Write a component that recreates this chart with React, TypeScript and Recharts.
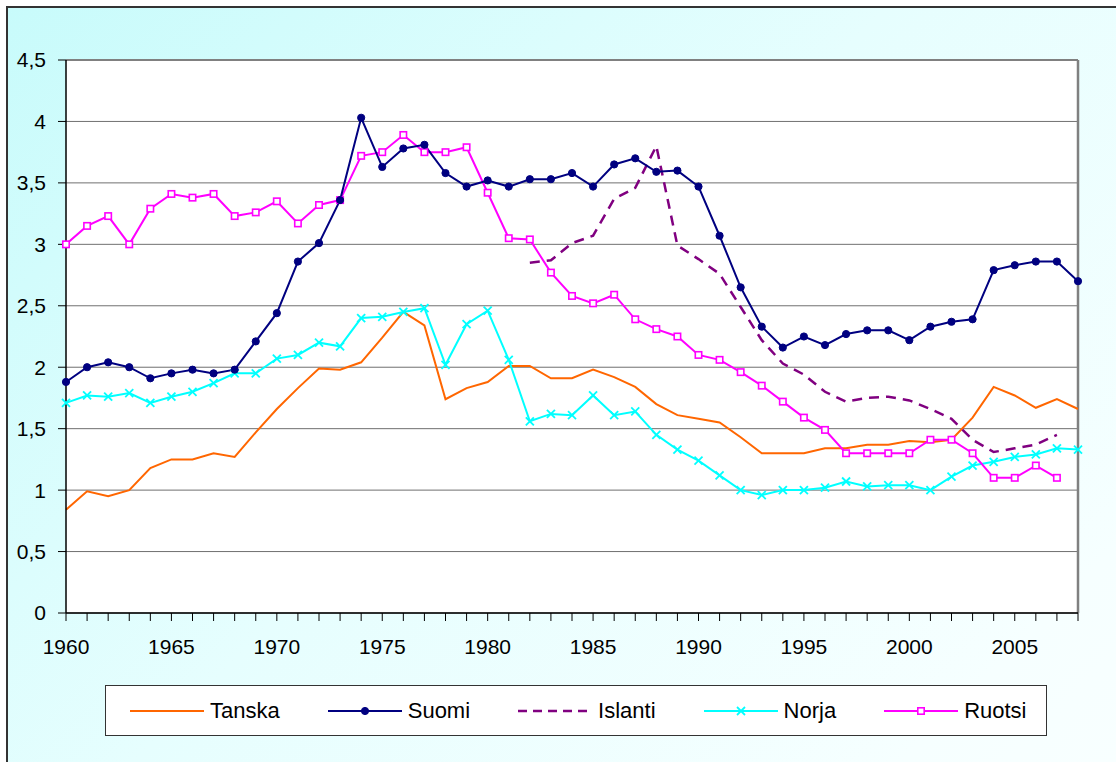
import React from "react";
import {
  LineChart,
  Line,
  XAxis,
  YAxis,
  CartesianGrid,
  Legend,
  ReferenceLine,
} from "recharts";

const years = [
  1960, 1961, 1962, 1963, 1964, 1965, 1966, 1967, 1968, 1969, 1970, 1971, 1972,
  1973, 1974, 1975, 1976, 1977, 1978, 1979, 1980, 1981, 1982, 1983, 1984, 1985,
  1986, 1987, 1988, 1989, 1990, 1991, 1992, 1993, 1994, 1995, 1996, 1997, 1998,
  1999, 2000, 2001, 2002, 2003, 2004, 2005, 2006, 2007, 2008,
];

const tanska = [
  0.84, 0.99, 0.95, 1.0, 1.18, 1.25, 1.25, 1.3, 1.27, 1.47, 1.66, 1.83, 1.99,
  1.98, 2.04, 2.24, 2.45, 2.34, 1.74, 1.83, 1.88, 2.01, 2.01, 1.91, 1.91, 1.98,
  1.92, 1.84, 1.7, 1.61, 1.58, 1.55, 1.43, 1.3, 1.3, 1.3, 1.34, 1.34, 1.37,
  1.37, 1.4, 1.39, 1.41, 1.59, 1.84, 1.77, 1.67, 1.74, 1.66,
];

const suomi = [
  1.88, 2.0, 2.04, 2.0, 1.91, 1.95, 1.98, 1.95, 1.98, 2.21, 2.44, 2.86, 3.01,
  3.36, 4.03, 3.63, 3.78, 3.81, 3.58, 3.47, 3.52, 3.47, 3.53, 3.53, 3.58, 3.47,
  3.65, 3.7, 3.59, 3.6, 3.47, 3.07, 2.65, 2.33, 2.16, 2.25, 2.18, 2.27, 2.3,
  2.3, 2.22, 2.33, 2.37, 2.39, 2.79, 2.83, 2.86, 2.86, 2.7,
];

const islanti = [
  null, null, null, null, null, null, null, null, null, null, null, null, null,
  null, null, null, null, null, null, null, null, null, 2.85, 2.87, 3.01, 3.07,
  3.37, 3.46, 3.8, 2.99, 2.88, 2.76, 2.49, 2.22, 2.03, 1.94, 1.8, 1.72, 1.75,
  1.76, 1.73, 1.66, 1.58, 1.41, 1.31, 1.34, 1.37, 1.45, null,
];

const norja = [
  1.71, 1.77, 1.76, 1.79, 1.71, 1.76, 1.8, 1.87, 1.95, 1.95, 2.07, 2.1, 2.2,
  2.17, 2.4, 2.41, 2.45, 2.48, 2.02, 2.35, 2.46, 2.06, 1.56, 1.62, 1.61, 1.77,
  1.61, 1.64, 1.45, 1.33, 1.24, 1.12, 1.0, 0.96, 1.0, 1.0, 1.02, 1.07, 1.03,
  1.04, 1.04, 1.0, 1.11, 1.2, 1.23, 1.27, 1.29, 1.34, 1.33,
];

const ruotsi = [
  3.0, 3.15, 3.23, 3.0, 3.29, 3.41, 3.38, 3.41, 3.23, 3.26, 3.35, 3.17, 3.32,
  3.36, 3.72, 3.75, 3.89, 3.75, 3.75, 3.79, 3.42, 3.05, 3.04, 2.77, 2.58, 2.52,
  2.59, 2.39, 2.31, 2.25, 2.1, 2.06, 1.96, 1.85, 1.72, 1.59, 1.49, 1.3, 1.3,
  1.3, 1.3, 1.41, 1.41, 1.3, 1.1, 1.1, 1.2, 1.1, null,
];

const yTicks = [0, 0.5, 1, 1.5, 2, 2.5, 3, 3.5, 4, 4.5];

const data = years.map((year, i) => ({
  year,
  Tanska: tanska[i],
  Suomi: suomi[i],
  Islanti: islanti[i],
  Norja: norja[i],
  Ruotsi: ruotsi[i],
}));

const FONT = "'Liberation Sans', Arial, sans-serif";

const COLORS = {
  Tanska: "#ff6600",
  Suomi: "#000080",
  Islanti: "#800080",
  Norja: "#00ffff",
  Ruotsi: "#ff00ff",
};

type MarkerKind = "none" | "circle" | "cross" | "square";

function Marker({ kind, cx, cy, color }: { kind: MarkerKind; cx: number; cy: number; color: string }) {
  if (kind === "circle") return <circle cx={cx} cy={cy} r={3.6} fill={color} stroke={color} strokeWidth={1} />;
  if (kind === "cross")
    return (
      <g stroke={color} strokeWidth={1.8}>
        <line x1={cx - 4} y1={cy - 4} x2={cx + 4} y2={cy + 4} />
        <line x1={cx - 4} y1={cy + 4} x2={cx + 4} y2={cy - 4} />
      </g>
    );
  if (kind === "square")
    return <rect x={cx - 3.2} y={cy - 3.2} width={6.4} height={6.4} fill="#fff" stroke={color} strokeWidth={1.6} />;
  return null;
}

const makeDot = (kind: MarkerKind, color: string) => (props: any) => {
  const { cx, cy, value, index } = props;
  if (cx == null || cy == null || value == null) return <g key={`e-${index}`} />;
  return (
    <g key={`d-${index}`}>
      <Marker kind={kind} cx={cx} cy={cy} color={color} />
    </g>
  );
};

const legendItems: { name: keyof typeof COLORS; kind: MarkerKind; dash?: string }[] = [
  { name: "Tanska", kind: "none" },
  { name: "Suomi", kind: "circle" },
  { name: "Islanti", kind: "none", dash: "9 6" },
  { name: "Norja", kind: "cross" },
  { name: "Ruotsi", kind: "square" },
];

function LegendBox() {
  return (
    <div
      style={{
        boxSizing: "border-box",
        width: 942,
        height: 51,
        background: "#fff",
        border: "1.5px solid #333",
        display: "flex",
        alignItems: "center",
        paddingLeft: 24,
        fontFamily: FONT,
        fontSize: 22,
        color: "#000",
      }}
    >
      {legendItems.map((it) => (
        <div key={it.name} style={{ display: "flex", alignItems: "center", marginRight: 48 }}>
          <svg width={74} height={14} style={{ display: "block" }}>
            <line
              x1={0}
              y1={7}
              x2={74}
              y2={7}
              stroke={COLORS[it.name]}
              strokeWidth={it.dash ? 2.5 : 2}
              strokeDasharray={it.dash}
            />
            <Marker kind={it.kind} cx={37} cy={7} color={COLORS[it.name]} />
          </svg>
          <span style={{ marginLeft: 6, lineHeight: "24px" }}>{it.name}</span>
        </div>
      ))}
    </div>
  );
}

export default function App() {
  return (
    <div
      style={{
        position: "fixed",
        left: 0,
        top: 0,
        width: 1116,
        height: 762,
        overflow: "hidden",
        background: "#fff",
      }}
    >
      <div
        style={{
          position: "absolute",
          left: 6,
          top: 6,
          width: 1300,
          height: 900,
          borderLeft: "2px solid #333",
          borderTop: "2px solid #333",
          background: "linear-gradient(135deg, #c8fbfb 0%, #e6fefe 40%, #f6ffff 75%, #fbffff 100%)",
        }}
      />
      <div style={{ position: "absolute", left: 0, top: 0 }}>
        <LineChart
          width={1116}
          height={762}
          data={data}
          margin={{ top: 60, right: 38, bottom: 26, left: 0 }}
        >
          <CartesianGrid vertical={false} stroke="#707070" strokeWidth={1} fill="#fff" fillOpacity={1} />
          <XAxis
            dataKey="year"
            type="number"
            domain={[1960, 2008]}
            ticks={years}
            interval={0}
            height={72}
            tickSize={8}
            tickMargin={18}
            tickFormatter={(v: number) => (v % 5 === 0 ? String(v) : "")}
            axisLine={{ stroke: "#000", strokeWidth: 1.5 }}
            tickLine={{ stroke: "#000" }}
            tick={{ fill: "#000", fontSize: 21, fontFamily: FONT }}
          />
          <YAxis
            domain={[0, 4.5]}
            ticks={yTicks}
            interval={0}
            width={66}
            tickSize={8}
            tickMargin={12}
            tickFormatter={(v: number) => String(v).replace(".", ",")}
            axisLine={{ stroke: "#000", strokeWidth: 1.5 }}
            tickLine={{ stroke: "#000" }}
            tick={{ fill: "#000", fontSize: 21, fontFamily: FONT }}
          />
          <ReferenceLine y={4.5} stroke="#808080" strokeWidth={2} />
          <ReferenceLine x={2008} stroke="#808080" strokeWidth={2.5} />
          <Legend
            verticalAlign="bottom"
            height={51}
            width={942}
            wrapperStyle={{ left: 105, bottom: 26 }}
            content={() => <LegendBox />}
          />
          <Line
            type="linear"
            dataKey="Tanska"
            stroke={COLORS.Tanska}
            strokeWidth={2}
            dot={false}
            isAnimationActive={false}
          />
          <Line
            type="linear"
            dataKey="Islanti"
            stroke={COLORS.Islanti}
            strokeWidth={2.5}
            strokeDasharray="10 7"
            dot={false}
            isAnimationActive={false}
          />
          <Line
            type="linear"
            dataKey="Norja"
            stroke={COLORS.Norja}
            strokeWidth={2}
            dot={makeDot("cross", COLORS.Norja)}
            isAnimationActive={false}
          />
          <Line
            type="linear"
            dataKey="Ruotsi"
            stroke={COLORS.Ruotsi}
            strokeWidth={2}
            dot={makeDot("square", COLORS.Ruotsi)}
            isAnimationActive={false}
          />
          <Line
            type="linear"
            dataKey="Suomi"
            stroke={COLORS.Suomi}
            strokeWidth={2}
            dot={makeDot("circle", COLORS.Suomi)}
            isAnimationActive={false}
          />
        </LineChart>
      </div>
    </div>
  );
}
